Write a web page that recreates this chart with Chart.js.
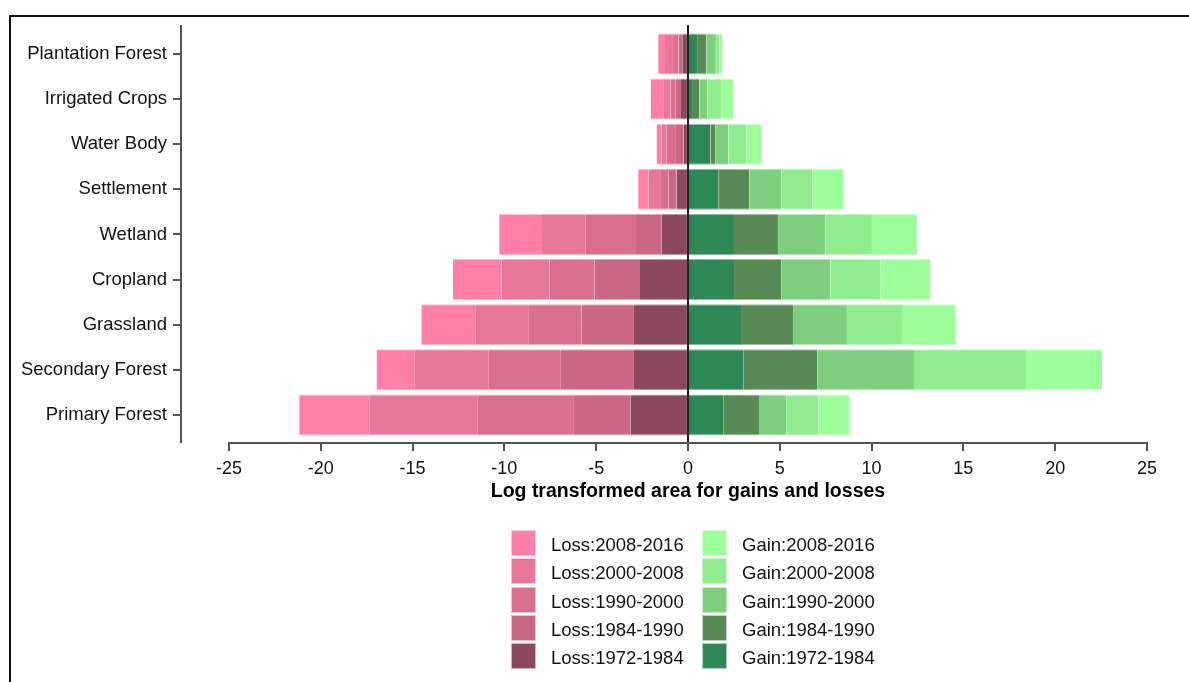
<!DOCTYPE html>
<html>
<head>
<meta charset="utf-8">
<script src="https://cdn.jsdelivr.net/npm/chart.js@4.4.1/dist/chart.umd.min.js"></script>
<style>
  html, body { margin: 0; padding: 0; background: #fff; overflow: hidden; }
  #wrap { position: relative; width: 1189px; height: 682px; }
  #frame { position: absolute; left: 9px; top: 15px; width: 1300px; height: 800px;
           border: 2px solid #111; pointer-events: none; }
  canvas { position: absolute; left: 0; top: 0; }
  #legend { position: absolute; left: 511px; top: 529px; display: grid;
            grid-template-columns: 191px 191px; grid-auto-flow: column;
            grid-template-rows: repeat(5, 28.3px);
            font-family: "Liberation Sans", Arial, sans-serif; font-size: 18.5px; color: #111; }
  .item { display: flex; align-items: center; height: 28.3px; }
  .item span:last-child { position: relative; top: 2px; }
  .box { width: 25px; height: 26px; margin-right: 15px; box-sizing: border-box;
         border: 1px solid rgba(255,255,255,0.6); }
</style>
</head>
<body>
<div id="wrap">
  <canvas id="c" width="1189" height="682"></canvas>
  <div id="frame"></div>
  <div id="legend"></div>
</div>
<script>
// Land-cover classes, top to bottom
const categories = ['Plantation Forest', 'Irrigated Crops', 'Water Body', 'Settlement',
  'Wetland', 'Cropland', 'Grassland', 'Secondary Forest', 'Primary Forest'];

// Losses per period (log transformed area, negative side)
const loss1972 = [-0.31, -0.38, -0.25, -0.62, -1.45, -2.61, -2.94, -2.94, -3.14];
const loss1984 = [-0.20, -0.28, -0.45, -0.45, -1.38, -2.49, -2.85, -3.98, -3.07];
const loss1990 = [-0.25, -0.28, -0.45, -0.40, -2.73, -2.45, -2.87, -3.92, -5.23];
const loss2000 = [-0.49, -0.41, -0.28, -0.69, -2.39, -2.60, -2.93, -4.03, -5.92];
const loss2008 = [-0.37, -0.68, -0.28, -0.55, -2.33, -2.65, -2.93, -2.09, -3.81];

// Gains per period (positive side)
const gain1972 = [0.54, 0.22, 1.23, 1.65, 2.51, 2.51, 2.89, 3.01, 1.92];
const gain1984 = [0.46, 0.40, 0.28, 1.69, 2.39, 2.59, 2.87, 4.03, 1.95];
const gain1990 = [0.52, 0.45, 0.69, 1.76, 2.60, 2.67, 2.90, 5.27, 1.48];
const gain2000 = [0.20, 0.76, 1.00, 1.69, 2.52, 2.70, 3.00, 6.10, 1.75];
const gain2008 = [0.15, 0.66, 0.78, 1.67, 2.45, 2.73, 2.92, 4.14, 1.69];

// Axis ticks and labels
const xTicks = [-25, -20, -15, -10, -5, 0, 5, 10, 15, 20, 25];
const xTitle = 'Log transformed area for gains and losses';

// Series, stacked from zero outward
const series = [
  { label: 'Loss:1972-1984', data: loss1972, color: '#8A475D' },
  { label: 'Loss:1984-1990', data: loss1984, color: '#CA6784' },
  { label: 'Loss:1990-2000', data: loss1990, color: '#D96E8E' },
  { label: 'Loss:2000-2008', data: loss2000, color: '#E87899' },
  { label: 'Loss:2008-2016', data: loss2008, color: '#FF7FA7' },
  { label: 'Gain:1972-1984', data: gain1972, color: '#2E8856' },
  { label: 'Gain:1984-1990', data: gain1984, color: '#578A55' },
  { label: 'Gain:1990-2000', data: gain1990, color: '#7DCE7D' },
  { label: 'Gain:2000-2008', data: gain2000, color: '#90ED8F' },
  { label: 'Gain:2008-2016', data: gain2008, color: '#9DFF9A' }
];

function lighten(hex, t) {
  const n = parseInt(hex.slice(1), 16);
  const r = (n >> 16) & 255, g = (n >> 8) & 255, b = n & 255;
  const m = v => Math.round(v + (255 - v) * t);
  return `rgb(${m(r)},${m(g)},${m(b)})`;
}

const FONT = '"Liberation Sans", Arial, sans-serif';
const AXIS = '#555';

// Axis lines, zero line and axis title
const axisDecor = {
  id: 'axisDecor',
  afterDatasetsDraw(chart) {
    const { ctx, chartArea, scales: { x } } = chart;
    ctx.save();
    ctx.strokeStyle = AXIS;
    ctx.lineWidth = 2;
    ctx.beginPath();
    ctx.moveTo(x.getPixelForValue(xTicks[0]) - 1, chartArea.bottom + 1);
    ctx.lineTo(x.getPixelForValue(xTicks[xTicks.length - 1]) + 1, chartArea.bottom + 1);
    ctx.stroke();
    const x0 = Math.round(x.getPixelForValue(0));
    ctx.strokeStyle = '#222';
    ctx.beginPath();
    ctx.moveTo(x0, chartArea.top - 1);
    ctx.lineTo(x0, chartArea.bottom);
    ctx.stroke();
    ctx.fillStyle = '#000';
    ctx.font = 'bold 19.5px ' + FONT;
    ctx.textAlign = 'center';
    ctx.textBaseline = 'middle';
    ctx.fillText(xTitle, x.getPixelForValue(0), chartArea.bottom + 50);
    ctx.restore();
  }
};

const chart = new Chart(document.getElementById('c'), {
  type: 'bar',
  data: {
    datasets: series.map(s => ({
      label: s.label,
      data: s.data.map((v, i) => ({ x: v, y: i })),
      backgroundColor: s.color,
      borderColor: lighten(s.color, 0.45),
      borderWidth: { top: 1, bottom: 1, left: 0, right: 0 },
      borderSkipped: false,
      barPercentage: 0.91,
      categoryPercentage: 1
    }))
  },
  options: {
    indexAxis: 'y',
    responsive: false,
    animation: false,
    layout: { padding: { left: 0, right: 29, top: 26, bottom: 0 } },
    plugins: { legend: { display: false }, tooltip: { enabled: false } },
    scales: {
      x: {
        type: 'linear',
        stacked: true,
        min: -27.61,
        max: 25.71,
        afterBuildTicks: s => { s.ticks = xTicks.map(v => ({ value: v })); },
        afterFit: s => { s.height = 240; },
        grid: { drawOnChartArea: false, drawTicks: true, tickLength: 9, color: AXIS, lineWidth: 2 },
        border: { display: false },
        ticks: { color: '#111', font: { family: FONT, size: 18 }, padding: 7, maxRotation: 0 }
      },
      y: {
        type: 'linear',
        stacked: true,
        reverse: true,
        offset: false,
        min: -0.62,
        max: 8.6,
        afterBuildTicks: s => { s.ticks = categories.map((c, i) => ({ value: i })); },
        afterFit: s => { s.width = 181; },
        grid: { offset: false, drawOnChartArea: false, drawTicks: true, tickLength: 8, color: AXIS, lineWidth: 2 },
        border: { display: true, color: AXIS, width: 2 },
        ticks: {
          color: '#111', font: { family: FONT, size: 18.5 }, padding: 6,
          callback: v => categories[v]
        }
      }
    }
  },
  plugins: [axisDecor]
});

// Two-column legend: losses left, gains right, latest period first
const legend = document.getElementById('legend');
const order = [4, 3, 2, 1, 0, 9, 8, 7, 6, 5];
order.forEach(k => {
  const s = series[k];
  const item = document.createElement('div');
  item.className = 'item';
  const box = document.createElement('span');
  box.className = 'box';
  box.style.background = s.color;
  const txt = document.createElement('span');
  txt.textContent = s.label;
  item.appendChild(box);
  item.appendChild(txt);
  legend.appendChild(item);
});
</script>
</body>
</html>
